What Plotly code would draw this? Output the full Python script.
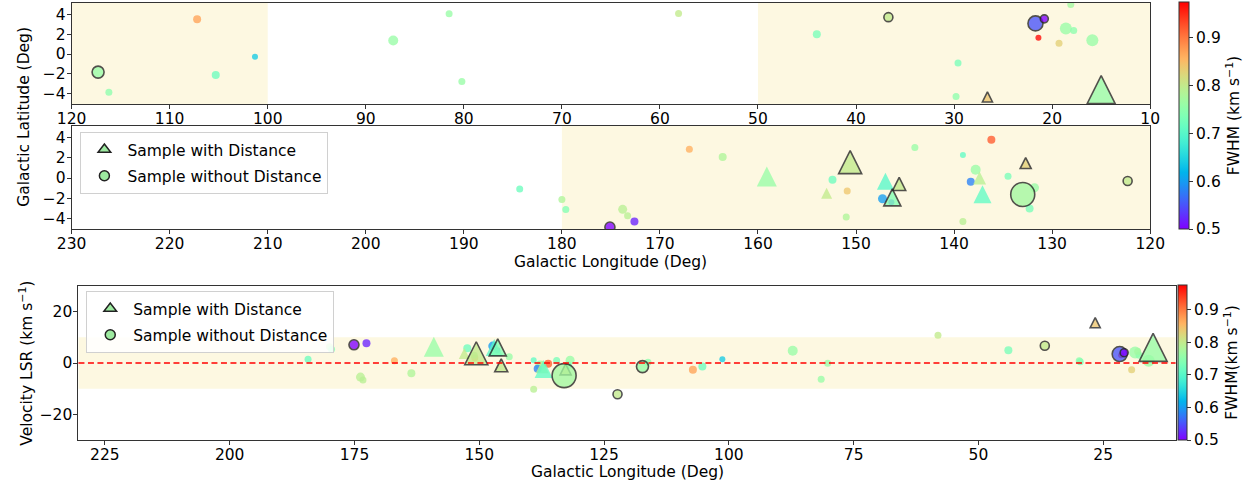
import numpy as np
import plotly.graph_objects as go

# ---------------- data ----------------
glon = [117.3, 116.2, 107.2, 105.3, 101.3, 87.2, 81.5, 80.2, 58.1, 44.0,
        36.7, 29.6, 29.8, 26.6, 21.7, 20.8, 21.4, 18.6, 17.8, 18.1,
        19.3, 15.9, 15.0,
        184.3, 180.0, 179.6, 175.1, 173.8, 173.3, 172.6, 167.0, 163.6, 159.1,
        153.0, 152.4, 150.9, 151.0, 150.6, 147.0, 147.3, 146.4, 146.3, 145.6,
        144.0, 139.1, 139.1, 137.8, 137.4, 138.3, 137.1, 136.2, 134.5, 132.7,
        133.0, 131.8, 132.3, 122.3]
glat = [-1.83, -3.87, 3.50, -2.13, -0.27, 1.37, 4.07, -2.77, 4.08, 2.00,
        3.72, -0.92, -4.28, -4.34, 3.09, 3.55, 1.64, 2.57, 2.37, 5.00,
        1.08, 1.38, -3.60,
        -1.09, -2.14, -3.13, -4.85, -3.10, -3.73, -4.30, 2.84, 2.08, 0.14,
        -1.50, -0.17, -1.29, -3.86, 1.57, -0.33, -2.05, -2.40, -1.92, -0.59,
        3.03, 2.27, -4.30, 0.81, 0.00, -0.37, -1.60, 3.80, 0.17, 1.48,
        -1.63, -0.97, -3.03, -0.30]
vlsr = [-1.4, 0.3, -2.6, -1.4, 1.5, 4.8, -6.3, -0.1, 10.8, 5.0,
        6.7, 0.5, 0.9, 15.7, 3.5, 4.0, 3.0, 4.1, 3.0, 4.5,
        -2.6, 0.9, 6.1,
        1.45, 6.3, 5.4, 7.1, -5.5, -6.6, 7.7, 0.9, -4.0, 6.3,
        3.7, 5.7, 2.0, 3.0, 3.8, 6.0, 6.6, 5.0, 6.1, -0.9,
        2.4, 1.1, -10.2, -1.0, -1.5, -2.2, -2.3, -0.3, 1.0, -2.5,
        -4.9, 1.1, -1.0, -12.2]
fwhm = [0.76, 0.75, 0.87, 0.72, 0.64, 0.76, 0.76, 0.76, 0.80, 0.73,
        0.80, 0.73, 0.75, 0.84, 0.55, 0.50, 0.97, 0.76, 0.75, 0.77,
        0.83, 0.76, 0.76,
        0.72, 0.78, 0.74, 0.50, 0.79, 0.79, 0.52, 0.86, 0.78, 0.76,
        0.80, 0.72, 0.84, 0.78, 0.80, 0.70, 0.60, 0.55, 0.74, 0.80,
        0.76, 0.71, 0.79, 0.76, 0.79, 0.58, 0.71, 0.92, 0.73, 0.83,
        0.77, 0.76, 0.73, 0.80]
msize = [12, 7, 8, 8, 6, 10, 7, 7, 7, 8,
         9, 7, 7, 10, 15, 8, 6, 12, 7, 7,
         7, 12, 28,
         7, 7, 7, 10, 9, 7, 8, 7, 8, 20,
         11, 8, 7, 7, 23, 17, 9, 6, 17, 13,
         7, 6, 7, 10, 13, 8, 18, 8, 7, 11,
         24, 9, 8, 9]
has_distance = [0, 0, 0, 0, 0, 0, 0, 0, 0, 0,
                0, 0, 0, 1, 0, 0, 0, 0, 0, 0,
                0, 0, 1,
                0, 0, 0, 0, 0, 0, 0, 0, 0, 1,
                1, 0, 0, 0, 1, 1, 0, 0, 1, 1,
                0, 0, 0, 0, 1, 0, 1, 0, 0, 1,
                0, 0, 0, 0]
edged = [1, 0, 0, 0, 0, 0, 0, 0, 0, 0,
         1, 0, 0, 1, 1, 1, 0, 0, 0, 0,
         0, 0, 1,
         0, 0, 0, 1, 0, 0, 0, 0, 0, 0,
         0, 0, 0, 0, 1, 0, 0, 0, 1, 1,
         0, 0, 0, 0, 0, 0, 0, 0, 0, 1,
         1, 0, 0, 1]

top_shade_l = [[120, 100], [50, 10]]
mid_shade_l = [[180, 120]]
v_band = [-10, 10]
fwhm_min, fwhm_max = 0.5, 0.975
cbar_ticks = [0.5, 0.6, 0.7, 0.8, 0.9]
legend_names = ["Sample with Distance", "Sample without Distance"]

# ---------------- helpers ----------------
def mpl_rainbow(n=41):
    xs = np.linspace(0, 1, n)
    r = np.clip(np.abs(2 * xs - 0.5), 0, 1)
    g = np.clip(np.sin(np.pi * xs), 0, 1)
    b = np.clip(np.cos(np.pi * xs / 2), 0, 1)
    return [[float(x), f"rgb({int(round(rr*255))},{int(round(gg*255))},{int(round(bb*255))})"]
            for x, rr, gg, bb in zip(xs, r, g, b)]

RAINBOW = mpl_rainbow()
FONT = "DejaVu Sans"
FS = 15.5
W, H = 1255, 482

glon_a = np.array(glon); glat_a = np.array(glat); vlsr_a = np.array(vlsr)
fwhm_a = np.array(fwhm); size_a = np.array(msize, dtype=float)
dist_a = np.array(has_distance); edge_a = np.array(edged)

# draw order: plain circles, plain triangles, edged triangles, edged circles
key = np.where(edge_a == 0, dist_a, 3 - dist_a)
order = np.argsort(key, kind="stable")

sym = np.where(dist_a[order] == 1, "arrow-down", "circle")
ang = np.where(dist_a[order] == 1, 180, 0)
stand = np.where(dist_a[order] == 1, size_a[order] / 2.0, 0)
lw = np.where(edge_a[order] == 1, 1.6, 0)


def marker(cax):
    return dict(color=fwhm_a[order], coloraxis=cax, size=size_a[order],
                symbol=list(sym), angle=list(ang), standoff=list(stand),
                opacity=0.78, line=dict(color="#222222", width=list(lw)))


fig = go.Figure()
fig.add_trace(go.Scatter(x=glon_a[order], y=glat_a[order], mode="markers",
                         marker=marker("coloraxis"), xaxis="x", yaxis="y",
                         showlegend=False, hoverinfo="skip"))
fig.add_trace(go.Scatter(x=glon_a[order], y=glat_a[order], mode="markers",
                         marker=marker("coloraxis"), xaxis="x2", yaxis="y2",
                         showlegend=False, hoverinfo="skip"))
fig.add_trace(go.Scatter(x=glon_a[order], y=vlsr_a[order], mode="markers",
                         marker=marker("coloraxis2"), xaxis="x3", yaxis="y3",
                         showlegend=False, hoverinfo="skip"))

leg_col = "rgba(146,232,150,0.9)"
for lg, xa, ya in (("legend", "x2", "y2"), ("legend2", "x3", "y3")):
    fig.add_trace(go.Scatter(x=[None], y=[None], mode="markers", name=legend_names[0],
                             legendgroup=lg + "a",
                             marker=dict(symbol="triangle-up", size=11, color=leg_col,
                                         line=dict(color="#222", width=1.5)),
                             xaxis=xa, yaxis=ya, legend=lg))
    fig.add_trace(go.Scatter(x=[None], y=[None], mode="markers", name=legend_names[1],
                             legendgroup=lg + "b",
                             marker=dict(symbol="circle", size=10, color=leg_col,
                                         line=dict(color="#222", width=1.5)),
                             xaxis=xa, yaxis=ya, legend=lg))

shade = "#fdf8e1"
shapes = []
for x0, x1 in top_shade_l:
    shapes.append(dict(type="rect", xref="x", yref="y domain", x0=x0, x1=x1, y0=0, y1=1,
                       fillcolor=shade, line_width=0, layer="below"))
for x0, x1 in mid_shade_l:
    shapes.append(dict(type="rect", xref="x2", yref="y2 domain", x0=x0, x1=x1, y0=0, y1=1,
                       fillcolor=shade, line_width=0, layer="below"))
shapes.append(dict(type="rect", xref="x3 domain", yref="y3", x0=0, x1=1, y0=v_band[0], y1=v_band[1],
                   fillcolor=shade, line_width=0, layer="below"))
shapes.append(dict(type="line", xref="x3 domain", yref="y3", x0=0, x1=1, y0=0, y1=0,
                   line=dict(color="red", width=1.6, dash="6px,3.5px"), layer="above"))

axcommon = dict(showline=True, mirror=True, linecolor="#333", linewidth=1, ticks="outside",
                ticklen=4, tickcolor="#333", showgrid=False, zeroline=False,
                tickfont=dict(size=FS, color="black", family=FONT))
xcommon = dict(axcommon, ticklabelstandoff=-4)
ycommon = dict(axcommon, ticklabelstandoff=-2)

def px_x(a, b):
    return [a / W, b / W]

def px_y(top, bot):
    return [1 - bot / H, 1 - top / H]

cb_common = dict(thicknessmode="pixels", lenmode="fraction", xanchor="left", yanchor="top",
                 xpad=0, ypad=0, outlinecolor="#333", outlinewidth=1, ticks="outside",
                 ticklen=4, tickcolor="#333", tickvals=cbar_ticks, tickformat=".1f",
                 tickfont=dict(size=FS, color="black", family=FONT))

leg_common = dict(xanchor="left", yanchor="top", bgcolor="rgba(255,255,255,0.85)",
                  bordercolor="#d0d0d0", borderwidth=1, font=dict(size=FS, family=FONT),
                  itemsizing="trace", tracegroupgap=3, itemwidth=36)

fig.update_layout(
    width=W, height=H, margin=dict(l=0, r=0, t=0, b=0, pad=0),
    paper_bgcolor="white", plot_bgcolor="white",
    font=dict(family=FONT, size=FS, color="black"),
    xaxis=dict(domain=px_x(58, 1163), range=[120, 10], anchor="y",
               tickvals=list(range(120, 9, -10)), **xcommon),
    yaxis=dict(domain=px_y(3, 104), range=[-5.05, 5.15], anchor="x",
               tickvals=[-4, -2, 0, 2, 4], **ycommon),
    xaxis2=dict(domain=px_x(58, 1163), range=[230, 120], anchor="y2",
                tickvals=list(range(230, 119, -10)), **xcommon),
    yaxis2=dict(domain=px_y(126, 229), range=[-5.05, 5.15], anchor="x2",
                tickvals=[-4, -2, 0, 2, 4], **ycommon),
    xaxis3=dict(domain=px_x(65, 1189), range=[230.3, 10.5], anchor="y3",
                tickvals=[225, 200, 175, 150, 125, 100, 75, 50, 25], **xcommon),
    yaxis3=dict(domain=px_y(286, 440), range=[-30, 30], anchor="x3",
                tickvals=[-20, 0, 20], **ycommon),
    coloraxis=dict(colorscale=RAINBOW, cmin=fwhm_min, cmax=fwhm_max,
                   colorbar=dict(x=1192 / W, y=1 - 2 / H, len=227 / H, thickness=10,
                                 title=dict(text="FWHM (km s<sup>\u22121</sup>)", side="right",
                                            font=dict(size=FS, family=FONT)),
                                 **cb_common)),
    coloraxis2=dict(colorscale=RAINBOW, cmin=fwhm_min, cmax=fwhm_max,
                    colorbar=dict(x=1191 / W, y=1 - 285 / H, len=155 / H, thickness=9,
                                  title=dict(text="FWHM(km s<sup>\u22121</sup>)", side="right",
                                             font=dict(size=FS, family=FONT)),
                                  **cb_common)),
    legend=dict(x=67 / W, y=1 - 132 / H, **leg_common),
    legend2=dict(x=73 / W, y=1 - 291 / H, **leg_common),
    shapes=shapes,
    annotations=[
        dict(text="Galactic Latitude (Deg)", xref="paper", yref="paper", x=9 / W, y=1 - 117 / H,
             textangle=-90, showarrow=False, font=dict(size=FS), xanchor="center", yanchor="middle"),
        dict(text="Galactic Longitude (Deg)", xref="paper", yref="paper", x=610 / W, y=1 - 262 / H,
             showarrow=False, font=dict(size=FS), xanchor="center", yanchor="middle"),
        dict(text="Velocity LSR (km s<sup>\u22121</sup>)", xref="paper", yref="paper", x=11 / W,
             y=1 - 363 / H, textangle=-90, showarrow=False, font=dict(size=FS),
             xanchor="center", yanchor="middle"),
        dict(text="Galactic Longitude (Deg)", xref="paper", yref="paper", x=627 / W, y=1 - 472 / H,
             showarrow=False, font=dict(size=FS), xanchor="center", yanchor="middle"),
    ],
)

fig.write_html("out.html", config={"displayModeBar": False},
               post_script="document.body.style.margin='0';document.body.style.overflow='hidden';")
